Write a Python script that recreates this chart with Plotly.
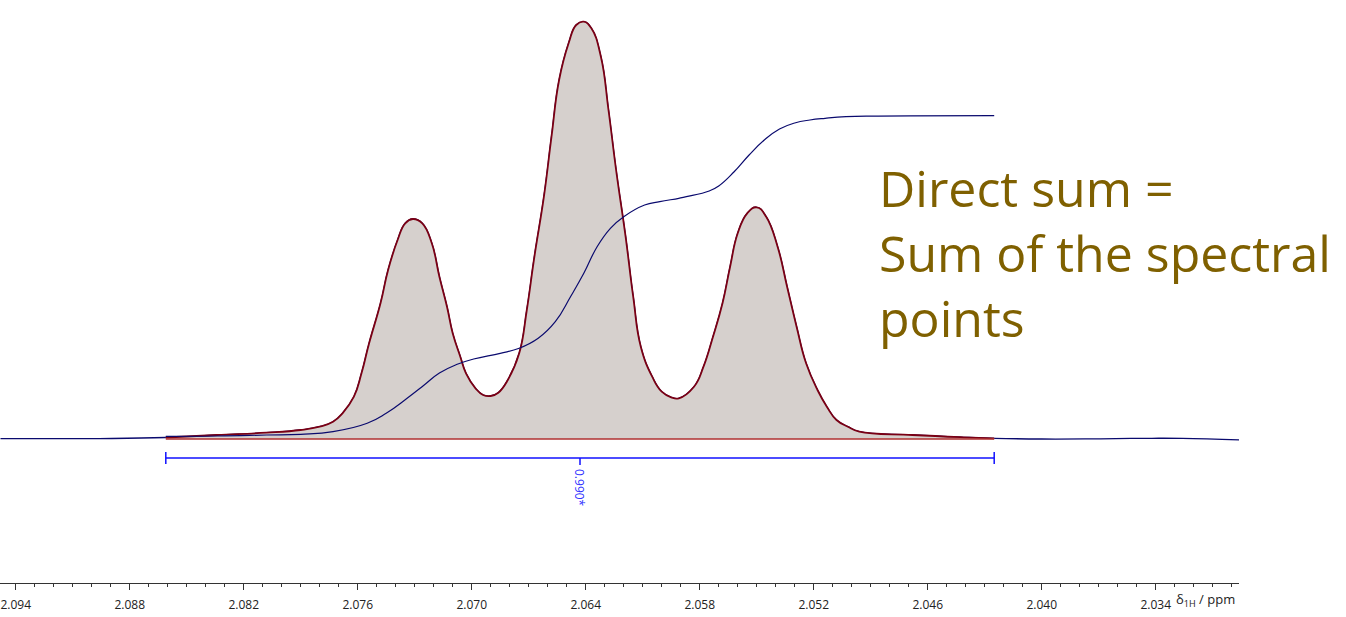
import plotly.graph_objects as go

# ---------------- data ----------------
# chemical shift (ppm) and intensity (arbitrary units) of the 1H spectrum
spec_ppm = [2.0948, 2.0922, 2.0896, 2.0861, 2.0834, 2.0808, 2.0790, 2.0780, 2.0773,
            2.0768, 2.0762, 2.0758, 2.0754, 2.0748, 2.0744, 2.0739, 2.0735, 2.0731,
            2.0726, 2.0721, 2.0717, 2.0713, 2.0710, 2.0706, 2.0703, 2.0698, 2.0694,
            2.0690, 2.0686, 2.0681, 2.0675, 2.0671, 2.0667, 2.0662, 2.0658, 2.0654,
            2.0649, 2.0645, 2.0641, 2.0637, 2.0632, 2.0628, 2.0624, 2.0619, 2.0615,
            2.0611, 2.0605, 2.0600, 2.0595, 2.0591, 2.0583, 2.0578, 2.0573, 2.0568,
            2.0564, 2.0560, 2.0555, 2.0550, 2.0545, 2.0539, 2.0534, 2.0529, 2.0524,
            2.0518, 2.0513, 2.0508, 2.0502, 2.0496, 2.0468, 2.0441, 2.0425, 2.0400,
            2.0369, 2.0342, 2.0326, 2.0296]
spec_int = [0.3, 0.3, 0.4, 1.5, 4.0, 6.3, 9.0, 12.3, 17.3,
            25.7, 42.3, 65.7, 95.7, 135.7, 169.0, 199.0, 215.7, 220.0,
            215.7, 195.7, 162.3, 132.3, 105.7, 82.3, 65.7, 50.7, 44.0,
            43.0, 46.3, 59.0, 85.7, 129.0, 182.3, 242.3, 302.3, 359.0,
            395.7, 414.0, 417.3, 410.7, 382.3, 329.0, 269.0, 202.3, 142.3,
            92.3, 62.3, 47.3, 41.7, 40.7, 52.3, 72.3, 102.3, 135.7,
            172.3, 205.7, 225.7, 231.7, 222.3, 192.3, 152.3, 112.3, 75.7,
            49.0, 32.0, 19.0, 12.3, 7.3, 4.0, 1.7, 0.7, 0.0,
            0.2, 0.7, 0.6, -0.8]

# running integral over the integrated region
integ_ppm = [2.0861, 2.0834, 2.0808, 2.0790, 2.0773, 2.0755, 2.0745, 2.0734, 2.0725,
             2.0717, 2.0708, 2.0699, 2.0685, 2.0675, 2.0665, 2.0656, 2.0648, 2.0641,
             2.0634, 2.0627, 2.0620, 2.0609, 2.0601, 2.0591, 2.0587, 2.0575, 2.0570,
             2.0562, 2.0554, 2.0546, 2.0538, 2.0530, 2.0522, 2.0514, 2.0503, 2.0486,
             2.0425]
integ_val = [2.7, 3.0, 4.0, 4.7, 7.3, 15.7, 25.7, 40.7, 54.0,
             66.0, 74.5, 80.0, 85.7, 90.7, 100.7, 117.3, 142.3, 165.7,
             192.3, 210.7, 222.3, 234.0, 237.3, 240.7, 242.3, 248.0, 253.0,
             267.0, 284.0, 299.0, 310.0, 316.0, 319.0, 320.7, 322.3, 322.9,
             323.3]

integral_from = 2.0861
integral_to = 2.0425
integral_label = "0.990*"

x_ticks_dtick = 0.006
x_tick0 = 2.034
x_range = [2.094826, 2.029616]

note_text = "Direct sum =<br>Sum of the spectral<br>points"

# ---------------- styles ----------------
NAVY = "#0a0a6e"
MAROON = "#7a0014"
FILL = "#d6d0cd"
BLUE = "#1010ff"
OLIVE = "#7f6000"
BAR_Y = -19
CAP = 6
SMOOTH = 1.3

fig = go.Figure()

# full spectrum (navy)
fig.add_trace(go.Scatter(x=spec_ppm, y=spec_int, mode="lines",
                         line=dict(color=NAVY, width=1.3, shape="spline", smoothing=SMOOTH),
                         hoverinfo="skip", showlegend=False))

# integrated region: filled spectrum in maroon
reg_x = [p for p in spec_ppm if integral_to <= p <= integral_from]
reg_y = [v for p, v in zip(spec_ppm, spec_int) if integral_to <= p <= integral_from]
fig.add_trace(go.Scatter(x=reg_x, y=reg_y, mode="lines", fill="tozeroy",
                         fillcolor=FILL,
                         line=dict(color=MAROON, width=1.8, shape="spline", smoothing=SMOOTH),
                         hoverinfo="skip", showlegend=False))
# baseline of region
fig.add_trace(go.Scatter(x=[integral_from, integral_to], y=[0, 0], mode="lines",
                         line=dict(color="#b03030", width=1.5),
                         hoverinfo="skip", showlegend=False))

# integral curve
fig.add_trace(go.Scatter(x=integ_ppm, y=integ_val, mode="lines",
                         line=dict(color=NAVY, width=1.2, shape="spline", smoothing=SMOOTH),
                         hoverinfo="skip", showlegend=False))

# integral bar with end caps and centre tick
mid = (integral_from + integral_to) / 2
fig.add_trace(go.Scatter(
    x=[integral_from, integral_to, None, integral_from, integral_from, None,
       integral_to, integral_to, None, mid, mid],
    y=[BAR_Y, BAR_Y, None, BAR_Y + CAP, BAR_Y - CAP, None,
       BAR_Y + CAP, BAR_Y - CAP, None, BAR_Y, BAR_Y - 7],
    mode="lines", line=dict(color=BLUE, width=1.5),
    hoverinfo="skip", showlegend=False))

fig.add_annotation(x=mid, y=BAR_Y - 9, xref="x", yref="y", text=integral_label,
                   textangle=90, showarrow=False, xanchor="center", yanchor="top",
                   font=dict(family="Open Sans", size=12, color="#3030ff"))

fig.add_annotation(x=877 / 1239, y=(583 - 152) / 583, xref="paper", yref="paper",
                   text=note_text, showarrow=False, xanchor="left", yanchor="top",
                   align="left",
                   font=dict(family="Open Sans", size=50, color=OLIVE))

fig.add_annotation(x=1174 / 1239, y=(583 - 600) / 583, xref="paper", yref="paper",
                   text="δ<sub>1H</sub> / ppm", showarrow=False, xanchor="left",
                   yanchor="middle",
                   font=dict(family="Open Sans", size=13, color="#222222"))

fig.update_layout(
    width=1346, height=617,
    margin=dict(l=0, r=107, t=0, b=34),
    paper_bgcolor="white", plot_bgcolor="white",
    xaxis=dict(range=x_range, tickmode="linear", tick0=x_tick0, dtick=x_ticks_dtick,
               tickformat=".3f", ticks="outside", ticklen=6, tickcolor="#333333",
               showline=True, linecolor="#333333", linewidth=1,
               showgrid=False, zeroline=False, ticklabelstandoff=5,
               tickfont=dict(family="Open Sans", size=12, color="#222222"),
               minor=dict(dtick=0.001, tick0=x_tick0, ticks="outside", ticklen=3,
                          tickcolor="#333333", showgrid=False)),
    yaxis=dict(range=[-144, 439], visible=False, showgrid=False, zeroline=False),
)

fig.write_html("out.html")
